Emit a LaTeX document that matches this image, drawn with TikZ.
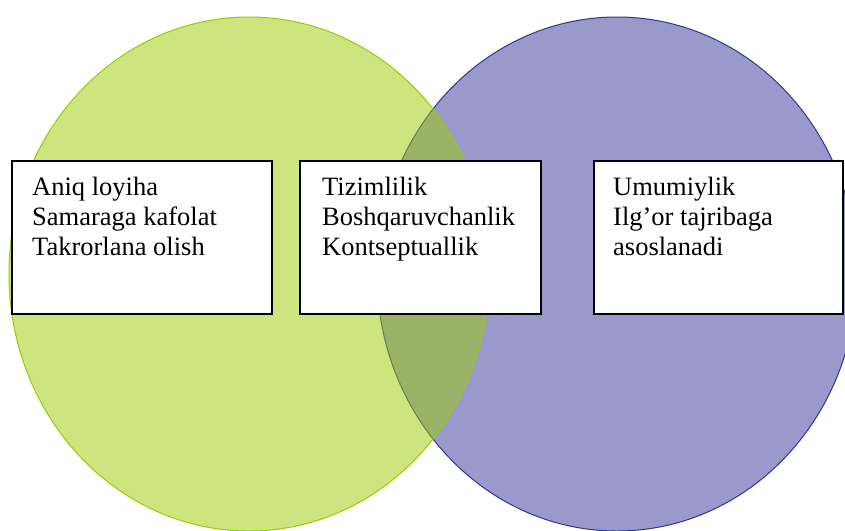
\documentclass[tikz,border=0pt]{standalone}
\usepackage{fontspec}
\setmainfont{Liberation Serif}
\usetikzlibrary{calc}
\definecolor{vgreen}{RGB}{153,204,0}
\definecolor{vblue}{RGB}{51,51,153}
\begin{document}
\begin{tikzpicture}[x=1pt,y=-1pt,
  setbox/.style={draw=black,line width=1.6pt,fill=white,rectangle,inner sep=0pt,anchor=north west},
  settext/.style={anchor=base west,inner sep=0pt,align=left,font=\fontsize{26.5}{30}\selectfont},
  ]
\useasboundingbox (0,0) rectangle (845,530);
\clip (0,0) rectangle (845,530);
% blue set (below)
\path[fill=vblue,fill opacity=0.5,draw=vblue,line width=1pt] (617,274) ellipse [x radius=240pt, y radius=257pt];
% green set (above, translucent)
\path[fill=vgreen,fill opacity=0.5,draw=vgreen,line width=1pt] (249,274) ellipse [x radius=240pt, y radius=257pt];
% boxes
\node[setbox,minimum width=260pt,minimum height=153pt] (b1) at (11,160) {};
\node[setbox,minimum width=241pt,minimum height=153pt] (b2) at (299,160) {};
\node[setbox,minimum width=249pt,minimum height=153pt] (b3) at (593,160) {};
% texts (base anchor = baseline of the last line)
\node[settext] (t1) at ($(b1.north west)+(21,95)$) {Aniq loyiha\\Samaraga kafolat\\Takrorlana olish};
\node[settext] (t2) at ($(b2.north west)+(23,95)$) {Tizimlilik\\Boshqaruvchanlik\\Kontseptuallik};
\node[settext] (t3) at ($(b3.north west)+(20,95)$) {Umumiylik\\Ilg’or tajribaga\\asoslanadi};
\end{tikzpicture}
\end{document}
